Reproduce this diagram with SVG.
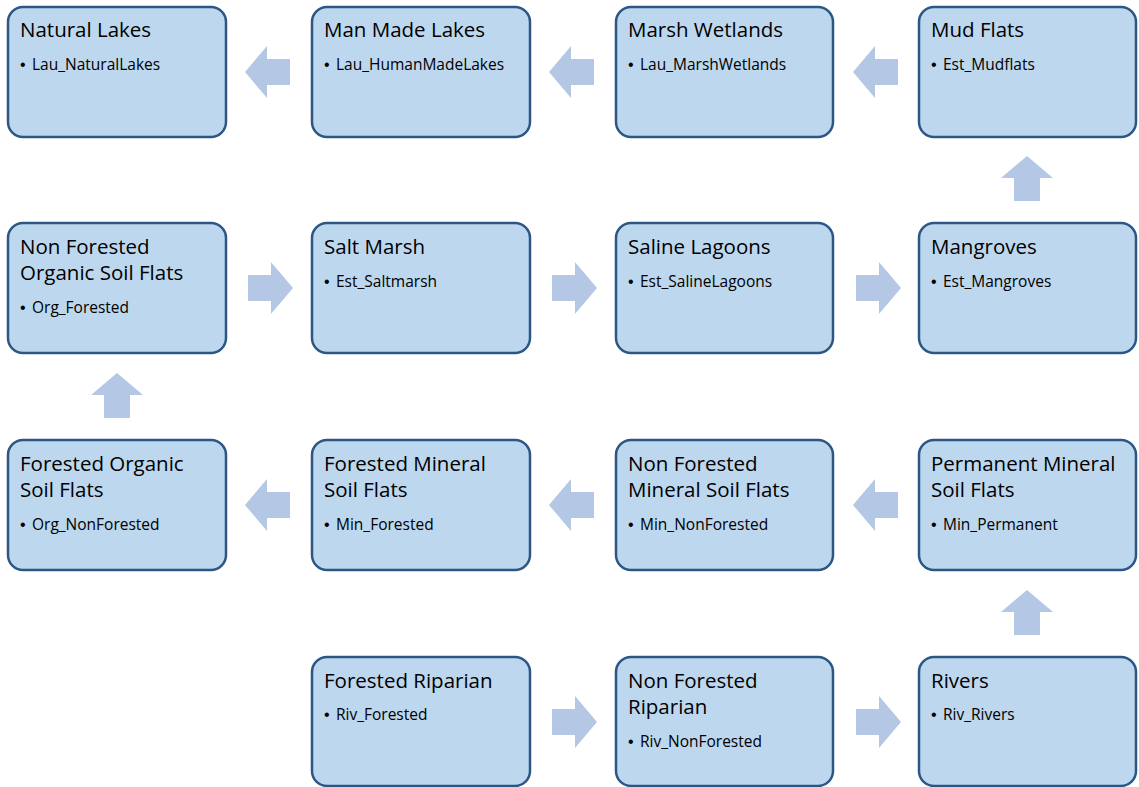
<svg xmlns="http://www.w3.org/2000/svg" width="1139" height="787" viewBox="0 0 1139 787">
<style>
.box{fill:#bdd7ee;stroke:#2c5785;stroke-width:2.5}
.t{font-family:"Open Sans","Liberation Sans",sans-serif;font-size:20.5px;fill:#000}
.b{font-family:"Open Sans","Liberation Sans",sans-serif;font-size:15.5px;fill:#000}
.d{font-family:"Liberation Sans",sans-serif;font-size:16px;fill:#000}
.arr{fill:#b4c8e6}
</style>
<defs>
<path id="la" d="M-23,0 L-1,-26 L-1,-13 L22,-13 L22,13 L-1,13 L-1,26 Z"/>
<path id="ra" d="M23,0 L1,-26 L1,-13 L-22,-13 L-22,13 L1,13 L1,26 Z"/>
<path id="ua" d="M0,-23 L-26,-1 L-13,-1 L-13,22 L13,22 L13,-1 L26,-1 Z"/>
</defs>
<g id="connectors" class="arr">
<use href="#la" x="268" y="72"/>
<use href="#la" x="572" y="72"/>
<use href="#la" x="876" y="72"/>
<use href="#ra" x="270" y="288"/>
<use href="#ra" x="574" y="288"/>
<use href="#ra" x="878" y="288"/>
<use href="#la" x="268" y="505"/>
<use href="#la" x="572" y="505"/>
<use href="#la" x="876" y="505"/>
<use href="#ra" x="574" y="722"/>
<use href="#ra" x="878" y="722"/>
<use href="#ua" x="1027" y="179"/>
<use href="#ua" x="117" y="396"/>
<use href="#ua" x="1027" y="613"/>
</g>
<g id="natural-lakes"><rect class="box" x="8" y="7" width="218" height="130" rx="15"/><text class="t" x="20" y="37">Natural Lakes</text><text class="d" x="20" y="70">•</text><text class="b" x="32" y="70">Lau_NaturalLakes</text></g>
<g id="man-made-lakes"><rect class="box" x="312" y="7" width="218" height="130" rx="15"/><text class="t" x="324" y="37">Man Made Lakes</text><text class="d" x="324" y="70">•</text><text class="b" x="336" y="70">Lau_HumanMadeLakes</text></g>
<g id="marsh-wetlands"><rect class="box" x="616" y="7" width="217" height="130" rx="15"/><text class="t" x="628" y="37">Marsh Wetlands</text><text class="d" x="628" y="70">•</text><text class="b" x="640" y="70">Lau_MarshWetlands</text></g>
<g id="mud-flats"><rect class="box" x="919" y="7" width="217" height="130" rx="15"/><text class="t" x="931" y="37">Mud Flats</text><text class="d" x="931" y="70">•</text><text class="b" x="943" y="70">Est_Mudflats</text></g>

<g id="non-forested-organic"><rect class="box" x="8" y="223" width="218" height="130" rx="15"/><text class="t" x="20" y="254">Non Forested</text><text class="t" x="20" y="280">Organic Soil Flats</text><text class="d" x="20" y="313">•</text><text class="b" x="32" y="313">Org_Forested</text></g>
<g id="salt-marsh"><rect class="box" x="312" y="223" width="218" height="130" rx="15"/><text class="t" x="324" y="254">Salt Marsh</text><text class="d" x="324" y="287">•</text><text class="b" x="336" y="287">Est_Saltmarsh</text></g>
<g id="saline-lagoons"><rect class="box" x="616" y="223" width="217" height="130" rx="15"/><text class="t" x="628" y="254">Saline Lagoons</text><text class="d" x="628" y="287">•</text><text class="b" x="640" y="287">Est_SalineLagoons</text></g>
<g id="mangroves"><rect class="box" x="919" y="223" width="217" height="130" rx="15"/><text class="t" x="931" y="254">Mangroves</text><text class="d" x="931" y="287">•</text><text class="b" x="943" y="287">Est_Mangroves</text></g>

<g id="forested-organic"><rect class="box" x="8" y="440" width="218" height="130" rx="15"/><text class="t" x="20" y="471">Forested Organic</text><text class="t" x="20" y="497">Soil Flats</text><text class="d" x="20" y="530">•</text><text class="b" x="32" y="530">Org_NonForested</text></g>
<g id="forested-mineral"><rect class="box" x="312" y="440" width="218" height="130" rx="15"/><text class="t" x="324" y="471">Forested Mineral</text><text class="t" x="324" y="497">Soil Flats</text><text class="d" x="324" y="530">•</text><text class="b" x="336" y="530">Min_Forested</text></g>
<g id="non-forested-mineral"><rect class="box" x="616" y="440" width="217" height="130" rx="15"/><text class="t" x="628" y="471">Non Forested</text><text class="t" x="628" y="497">Mineral Soil Flats</text><text class="d" x="628" y="530">•</text><text class="b" x="640" y="530">Min_NonForested</text></g>
<g id="permanent-mineral"><rect class="box" x="919" y="440" width="217" height="130" rx="15"/><text class="t" x="931" y="471">Permanent Mineral</text><text class="t" x="931" y="497">Soil Flats</text><text class="d" x="931" y="530">•</text><text class="b" x="943" y="530">Min_Permanent</text></g>

<g id="forested-riparian"><rect class="box" x="312" y="657" width="218" height="129" rx="15"/><text class="t" x="324" y="688">Forested Riparian</text><text class="d" x="324" y="720">•</text><text class="b" x="336" y="720">Riv_Forested</text></g>
<g id="non-forested-riparian"><rect class="box" x="616" y="657" width="217" height="129" rx="15"/><text class="t" x="628" y="688">Non Forested</text><text class="t" x="628" y="714">Riparian</text><text class="d" x="628" y="747">•</text><text class="b" x="640" y="747">Riv_NonForested</text></g>
<g id="rivers"><rect class="box" x="919" y="657" width="217" height="129" rx="15"/><text class="t" x="931" y="688">Rivers</text><text class="d" x="931" y="720">•</text><text class="b" x="943" y="720">Riv_Rivers</text></g>
</svg>
